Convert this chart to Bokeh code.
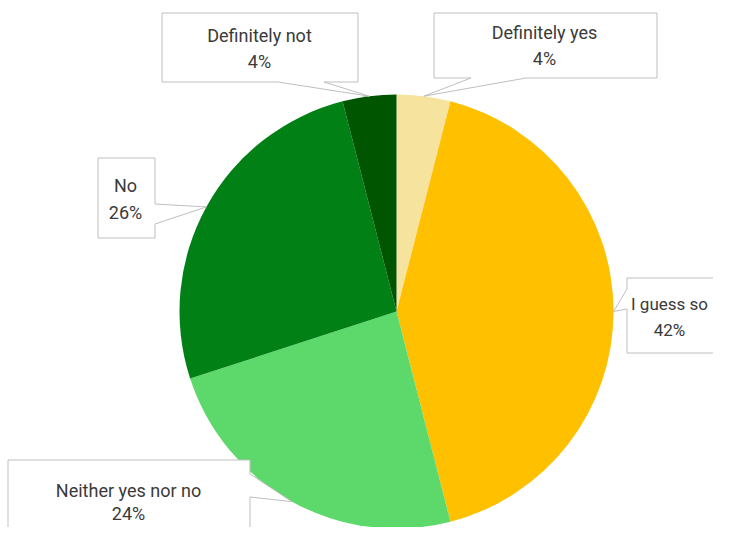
import math
from bokeh.plotting import figure
from bokeh.models import Range1d, ColumnDataSource
from bokeh.core.properties import value
from bokeh.embed import file_html
from bokeh.resources import INLINE

# ---- data ----
categories = ["Definitely yes", "I guess so", "Neither yes nor no", "No", "Definitely not"]
percents = [4, 42, 24, 26, 4]
colors = ["#F6E49E", "#FFC000", "#5DD86B", "#008015", "#005500"]

# ---- layout (reference pixel coordinates, y down) ----
FW, FH = 713, 527
CX, CY, R = 396, 311, 217

def dy(y):
    return FH - y

p = figure(width=FW, height=FH, output_backend="svg", toolbar_location=None,
           x_range=Range1d(0, FW), y_range=Range1d(0, FH), min_border=0)
p.axis.visible = False
p.grid.visible = False
p.outline_line_color = None
p.background_fill_color = "white"
p.border_fill_color = "white"

total = float(sum(percents))
starts, ends, mids = [], [], []
cum = 0.0
for v in percents:
    a0 = math.pi / 2 - 2 * math.pi * cum / total
    cum += v
    a1 = math.pi / 2 - 2 * math.pi * cum / total
    starts.append(a0)
    ends.append(a1)
    mids.append((a0 + a1) / 2)

src = ColumnDataSource(dict(x=[CX] * len(percents), y=[dy(CY)] * len(percents),
                            start=starts, end=ends, color=colors))
p.wedge(x="x", y="y", radius=R, start_angle="start", end_angle="end",
        direction="clock", fill_color="color", line_color=None, source=src)

# callout boxes: (x0, x1, y0, y1, side, g0, g1, text_cx, line1_y, line2_y, font)
boxes = {
    "Definitely yes": (433, 656, 12, 77, "bottom", 470, 525, 544, 32, 58, "18px"),
    "I guess so": (626, 727, 277, 352, "left", 288, 308, 669, 303, 329, "17px"),
    "Neither yes nor no": (7, 249, 459, 560, "right", 473, 496, 128, 490, 513, "18px"),
    "No": (97, 154, 157, 237, "right", 203, 223, 125, 185, 212, "18px"),
    "Definitely not": (161, 357, 12, 81, "bottom", 277, 323, 259, 35, 61, "18px"),
}

for cat, pct, mid in zip(categories, percents, mids):
    x0, x1, y0, y1, side, g0, g1, tcx, l1, l2, fs = boxes[cat]
    tip = (CX + R * math.cos(mid), dy(CY) + R * math.sin(mid))
    if side == "bottom":
        pts = [(x0, y0), (x1, y0), (x1, y1), (g1, y1), None, (g0, y1), (x0, y1)]
    elif side == "right":
        pts = [(x0, y0), (x1, y0), (x1, g0), None, (x1, g1), (x1, y1), (x0, y1)]
    else:
        pts = [(x0, y0), (x1, y0), (x1, y1), (x0, y1), (x0, g1), None, (x0, g0)]
    xs, ys = [], []
    for pt in pts:
        if pt is None:
            xs.append(tip[0]); ys.append(tip[1])
        else:
            xs.append(pt[0] + 0.5); ys.append(dy(pt[1]) - 0.5)
    p.patch(xs, ys, fill_color="white", line_color="#BFBFBF", line_width=1)
    p.text(x=[tcx], y=[dy(l1)], text=[cat], text_align="center", text_baseline="middle",
           text_font=value("Roboto"), text_font_size=fs, text_color="#3a3a3a")
    p.text(x=[tcx], y=[dy(l2)], text=[f"{pct}%"], text_align="center", text_baseline="middle",
           text_font=value("Roboto"), text_font_size=fs, text_color="#3a3a3a")

open("out.html", "w").write(file_html(p, INLINE))
